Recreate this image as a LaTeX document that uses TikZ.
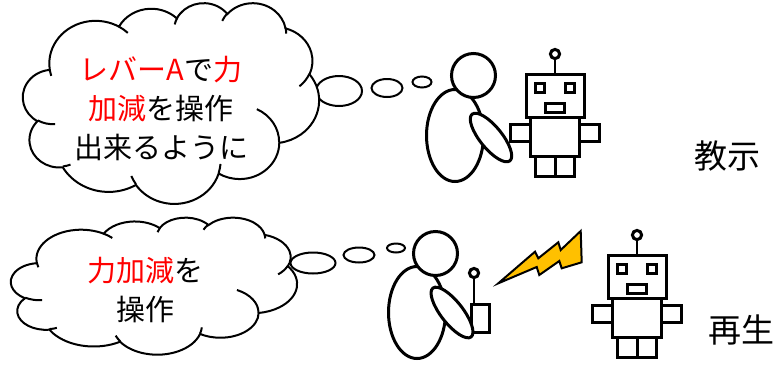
\documentclass[tikz,border=0pt]{standalone}
\usepackage{fontspec}
\setmainfont{Noto Sans CJK JP}

% One arc of a cloud outline. Radii in path units, start angle and sweep in
% degrees measured as visual (not parametric) angles on the ellipse.
\newcommand\cloudarc[4]{%
  arc[x radius=#1, y radius=#2,
      start angle={atan2(#1*sin(#3),#2*cos(#3))},
      delta angle={mod(atan2(#1*sin(#3+#4),#2*cos(#3+#4))-atan2(#1*sin(#3),#2*cos(#3))+720,360)}]}

% Cloud outline on a 432 x 432 grid
\newcommand\cloudoutline{%
  (39.00,143.70)
  \cloudarc{67.53}{91.90}{-190.48748}{123.78053}
  \cloudarc{53.33}{72.67}{-144.10238}{89.94523}
  \cloudarc{43.65}{59.45}{-145.80792}{99.72302}
  \cloudarc{48.57}{65.95}{-130.98607}{117.24173}
  \cloudarc{53.33}{72.73}{-78.70888}{109.02692}
  \cloudarc{67.75}{92.20}{-46.26725}{130.269}
  \cloudarc{57.85}{78.67}{0.62502}{114.03333}
  \cloudarc{67.52}{92.15}{22.4516}{115.17255}
  \cloudarc{77.20}{105.43}{66.24263}{75.71102}
  \cloudarc{43.60}{59.18}{-274.94208}{146.73557}
  \cloudarc{43.45}{59.45}{-246.8285}{152.51885}
  -- cycle}

% Short creases inside the cloud
\newcommand\cloudcreases{%
  (46.93,261.77) \cloudarc{43.45}{59.45}{86.742}{26.4295}
  (69.28,348.99) \cloudarc{43.60}{59.18}{73.61047}{11.44747}
  (164.78,390.90) \cloudarc{67.52}{92.15}{137.62415}{14.0811}
  (288.27,347.51) \cloudarc{67.52}{92.15}{6.45327}{15.99835}
  (341.29,229.54) \cloudarc{57.85}{78.67}{-70.29235}{70.91737}
  (417.98,153.54) \cloudarc{53.33}{72.73}{30.31803}{27.7515}
  (383.24,54.26) \cloudarc{48.57}{65.95}{-13.74433}{14.8589}
  (290.78,39.52) \cloudarc{48.57}{65.95}{-149.18145}{18.19537}
  (221.41,47.20) \cloudarc{43.65}{59.45}{-163.49427}{17.68635}
  (140.00,51.92) \cloudarc{67.53}{91.90}{-66.70695}{12.31935}
  (41.27,157.89) \cloudarc{67.53}{91.90}{157.65435}{11.85817}}

\begin{document}
\begin{tikzpicture}[x=1pt,y=-1pt,
  figline/.style={line width=3pt, draw=black, fill=white},
  robotline/.style={line width=3pt, draw=black, fill=white},
  stalk/.style={line width=1.3pt, draw=black},
  cloudline/.style={line width=2pt, draw=black, fill=white},
  creaseline/.style={line width=2pt, draw=black},
  bubble/.style={line width=2pt, draw=black, fill=white},
  bolt/.style={line width=2pt, draw=black, fill=boltyellow, line join=miter},
  thought/.style={font=\fontsize{29}{39}\selectfont, align=center, inner sep=0pt},
  caption/.style={font=\fontsize{33}{40}\selectfont, inner sep=0pt},
  robot/.pic={
    \draw[stalk] (555,58) -- (555,74);
    \draw[robotline] (555,54) circle[radius=4.6];
    \draw[robotline] (510.5,124.5) rectangle (530.5,141.5);
    \draw[robotline] (579.5,124.5) rectangle (599.5,141.5);
    \draw[robotline] (535.5,156.5) rectangle (555,176.5);
    \draw[robotline] (555,156.5) rectangle (574.5,176.5);
    \draw[robotline] (530.5,117.5) rectangle (579.5,156.5);
    \draw[robotline] (526.5,74.5) rectangle (584.5,117.5);
    \draw[robotline] (535.5,83.5) rectangle (544.5,92.5);
    \draw[robotline] (565.5,83.5) rectangle (574.5,92.5);
    \draw[robotline] (545.5,103.5) rectangle (564.5,112.5);
  }]
\definecolor{boltyellow}{HTML}{FFC000}

\fill[white] (0,0) rectangle (784,365);
\useasboundingbox (0,0) rectangle (784,365);

% ---------- teaching: upper row ----------
\draw[bubble] (339,91) ellipse[x radius=23, y radius=15];
\draw[bubble] (387,88) ellipse[x radius=15.5, y radius=9];
\draw[bubble] (422,82) ellipse[x radius=9.5, y radius=5.5];

\begin{scope}[shift={(23,2.5)}, x=0.68519pt, y=-0.46458pt]
  \draw[cloudline] \cloudoutline;
  \draw[creaseline] \cloudcreases;
\end{scope}
\node[thought] (teachthought) at (161,109)
  {\textcolor{red}{レバーA}で\textcolor{red}{力}\\
   \textcolor{red}{加減}を操作\\
   出来るように};

% operator
\draw[figline] (455,135.5) ellipse[x radius=28.5, y radius=46];
\draw[figline] (473.5,75.5) circle[radius=22];
\draw[figline, rotate around={-51:(491,137.5)}] (491,137.5) ellipse[x radius=30, y radius=11];

\pic at (0,0) {robot};
\node[caption] (teach) at (727,156) {教示};

% ---------- playback: lower row ----------
\draw[bubble] (313,263) ellipse[x radius=22.5, y radius=10.5];
\draw[bubble] (359,255) ellipse[x radius=15.5, y radius=7.5];
\draw[bubble] (396,248) ellipse[x radius=9, y radius=4.5];

\begin{scope}[shift={(11,217.2)}, x=0.66204pt, y=-0.31713pt]
  \draw[cloudline] \cloudoutline;
  \draw[creaseline] \cloudcreases;
\end{scope}
\node[thought] (playthought) at (145,290)
  {\textcolor{red}{力加減}を\\ 操作};

% operator with remote controller
\draw[figline] (417,312.5) ellipse[x radius=28.5, y radius=46];
\draw[figline] (435.5,253.5) circle[radius=22];
\draw[stalk] (474,278) -- (474,304);
\draw[robotline] (474,273) circle[radius=4.6];
\draw[robotline] (471,304.5) rectangle (489,332);
\draw[figline, rotate around={-52:(452,312.5)}] (452,312.5) ellipse[x radius=31, y radius=11];

% radio signal
\draw[bolt] (498.3,283.3) -- (535,251.7) -- (538.3,258.3) -- (558.3,242.3)
  -- (560.7,250) -- (580.7,231) -- (581.7,262.3) -- (561.7,268.3)
  -- (559.3,261) -- (539.3,275) -- (536.7,267) -- cycle;

\pic at (82,181) {robot};
\node[caption] (play) at (741,330) {再生};
\end{tikzpicture}
\end{document}
